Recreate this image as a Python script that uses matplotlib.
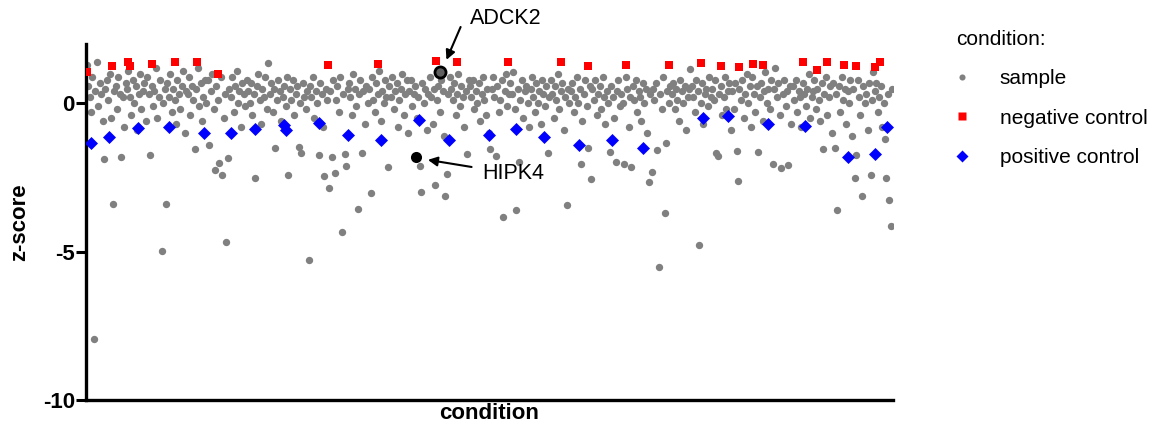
import numpy as np
import matplotlib
matplotlib.use("Agg")
import matplotlib.pyplot as plt
from matplotlib.lines import Line2D

plt.rcParams['font.family'] = ['Liberation Sans', 'DejaVu Sans']

# z-scores of screened samples, in plate order (14 per ~16 wells)
sample_z = [
    1.3, 0.6, 0.2, -0.3, 0.9, -7.96, 0.4, 1.38, -0.1, 0.7, 0.3, -0.6, -1.87, 0.5,
    0.8, 0.1, 1.0, -0.5, -3.38, 0.4, 0.6, -0.2, 0.9, 0.3, -1.80, 0.2, -0.8, 0.7,
    0.5, 1.1, 0.2, -0.4, 0.8, 0.0, 0.6, -0.9, 0.3, 1.0, -0.2, 0.4, 0.7, -0.6,
    0.9, 0.3, -1.75, 0.6, -0.1, 0.4, 1.2, -0.5, 0.2, 0.8, -4.98, 0.0, 0.5, -3.38,
    0.7, 0.2, 1.0, -0.3, 0.5, 0.1, -0.7, 0.8, 0.3, -0.2, 0.6, 1.1, -1.0, 0.4,
    0.3, 0.9, -0.4, 0.6, 0.1, -1.54, 0.5, 1.2, -0.1, 0.7, -0.6, 0.2, 0.8, 0.0,
    0.8, -1.42, 0.4, 1.0, -0.2, -2.26, 0.6, 0.1, -2.0, 0.9, -2.42, -0.5, 0.3, -4.66,
    -1.83, 0.5, 0.2, 0.9, -0.3, 0.6, 1.1, 0.0, 0.4, -0.8, 0.7, 0.3, -0.1, 0.8,
    0.4, 0.0, 0.7, -0.4, 0.3, -2.52, 0.6, 1.0, 0.1, -0.7, 0.5, 0.2, 0.9, -0.2,
    1.35, 0.3, 0.7, -0.3, 0.5, -1.50, 0.1, 0.8, 0.4, -0.6, 0.2, 0.6, -0.1, 0.9,
    -2.42, 0.5, 0.1, 0.8, -0.4, 0.3, 0.6, -1.46, 0.0, -1.68, 0.7, 0.2, -0.2, 0.4,
    -5.29, 0.6, 0.2, 0.9, -0.5, 0.4, 0.0, -1.75, 0.7, 0.3, -0.8, -2.45, 0.5, 0.1,
    -2.84, 0.4, -1.80, 0.8, -2.36, 0.1, 0.6, -0.3, 0.9, -4.33, 0.3, -1.71, -2.12, 0.5,
    0.7, 0.2, -0.4, 1.0, 0.5, -0.1, -3.56, 0.3, 0.8, -1.67, 0.4, -0.7, 0.6, 0.0,
    0.5, -3.02, 0.9, 0.1, -0.3, 0.7, 0.3, 1.1, -0.6, 0.4, 0.0, 0.8, 0.2, -2.16,
    0.6, 0.2, 0.9, -0.2, 0.4, 0.7, -0.8, 0.1, 0.5, 1.0, -0.4, 0.3, 0.8, -1.0,
    0.4, 0.8, -0.1, 0.3, 0.6, -0.5, 0.2, -2.12, -3.0, 0.7, 0.0, 0.5, -0.9, 0.3,
    0.9, 0.2, -0.7, 0.5, -2.75, 0.1, 0.6, -0.3, 0.8, 0.4, -1.1, -3.12, -2.38, 0.3,
    0.9, 0.5, 0.1, 0.7, -0.4, 0.3, 1.0, -0.1, 0.6, 0.2, -0.8, 0.4, -1.70, 0.8,
    0.6, 0.2, 0.8, -0.2, 0.4, 0.0, 0.7, -0.6, 0.3, 0.9, 0.1, -0.4, 0.5, -1.0,
    -1.55, 0.5, 0.9, 0.2, -1.78, 0.6, -0.3, 0.1, 0.8, -3.82, 0.4, 1.0, -0.1, 0.3,
    0.7, 0.3, 1.05, -0.2, -3.6, 0.5, -1.98, 0.1, 0.8, -0.5, 0.4, 0.6, 0.0, -0.8,
    0.5, 0.9, 0.2, -0.3, 0.7, 0.0, 0.4, -0.7, 0.8, 0.3, -0.1, 0.6, -1.69, 0.2,
    0.8, 0.3, -0.5, 0.6, 0.1, 1.0, -0.2, 0.4, 0.7, -0.9, 0.2, -3.43, 0.5, 0.0,
    0.4, 0.7, -0.3, 0.2, 0.9, 0.0, 0.5, -2.06, -0.6, 0.3, 0.8, -0.1, -1.49, 0.6,
    -2.54, 0.5, 0.1, 0.8, -0.4, 0.3, 0.6, -0.2, 0.9, 0.2, -0.7, 0.4, 0.0, -1.64,
    0.6, 0.2, -0.5, -1.98, 0.4, 0.8, -0.1, 0.3, 0.0, -2.05, 0.9, 0.5, -0.8, 0.2,
    -2.13, 0.6, 0.1, 0.8, -0.3, 0.4, 0.2, -0.6, 0.7, 0.0, 0.5, -1.0, -2.64, 0.3,
    -2.30, 0.5, 0.1, 0.7, -1.58, -5.5, 0.3, -0.2, 0.9, -3.68, -1.35, 0.4, 0.0, 0.6,
    0.3, 0.7, -0.2, 0.5, 0.1, -0.6, 0.8, 0.4, 0.0, 0.6, -0.9, 0.2, 0.5, 1.15,
    0.6, 0.2, -0.3, 0.8, 0.4, -4.79, 0.0, 0.7, -0.7, 0.3, 0.5, -0.1, 0.9, 0.2,
    0.5, 0.1, 0.8, -1.67, -1.76, 0.3, 0.6, -0.4, 0.2, 0.9, -0.2, 0.4, 0.7, -0.9,
    0.4, -0.2, 0.7, -1.61, -2.63, 0.5, 0.1, 0.8, -0.5, 0.3, 1.0, 0.0, 0.6, -0.8,
    0.9, 0.3, -0.3, 0.6, -1.64, 0.2, 0.7, -0.6, 0.4, 1.05, 0.0, 0.5, -0.2, 0.8,
    -2.05, 0.5, 1.2, 0.2, 0.7, -0.4, -2.19, 0.3, 0.8, -0.1, 0.4, -2.09, 0.6, -0.7,
    0.6, 0.1, 0.8, -0.3, 0.4, 0.2, -0.8, 0.7, 0.3, -0.1, 0.5, 1.0, -0.5, 0.2,
    0.4, 0.8, -0.2, 0.5, 0.1, -0.6, 0.7, -1.55, 0.3, 0.9, -0.4, 0.2, 0.6, -1.0,
    0.7, -1.49, 0.3, -3.6, 0.6, -0.3, 0.9, 0.1, 0.5, -0.7, 0.4, 0.0, 0.8, -1.1,
    0.5, -2.52, -1.75, 0.8, 0.2, -0.4, -3.11, 0.6, 0.0, 0.3, -0.9, 0.7, -2.42, 0.1,
    1.05, 0.4, 0.7, -0.3, 0.2, 0.6, -0.8, 0.0, -1.2, -2.52, 0.3, -3.26, -4.13, 0.5,
]

# control wells: well index and z-score
neg_well = [1, 21, 33, 35, 52, 71, 88, 105, 192, 232, 278, 294, 335, 377, 398,
            428, 462, 488, 504, 518, 529, 537, 569, 580, 588, 601, 611, 626, 630]
neg_z = [1.07, 1.26, 1.41, 1.26, 1.33, 1.38, 1.38, 0.99, 1.28, 1.33, 1.43, 1.38,
         1.38, 1.41, 1.26, 1.29, 1.28, 1.35, 1.27, 1.21, 1.33, 1.28, 1.38, 1.13,
         1.38, 1.29, 1.25, 1.24, 1.38]

pos_well = [4, 18, 41, 66, 94, 115, 134, 157, 159, 185, 208, 234, 264, 288, 320,
            341, 363, 391, 417, 442, 489, 509, 541, 570, 604, 626, 635]
pos_z = [-1.33, -1.15, -0.84, -0.81, -1.01, -1.00, -0.87, -0.74, -0.91, -0.65,
         -1.08, -1.25, -0.55, -1.25, -1.07, -0.88, -1.14, -1.41, -1.25, -1.52,
         -0.51, -0.44, -0.68, -0.77, -1.80, -1.72, -0.80]

# highlighted hits
hit_names = ["ADCK2", "HIPK4"]
hit_well = [281, 262]
hit_z = [1.04, -1.80]

n_wells = 640
sample_x = np.linspace(0.6, n_wells - 0.6, len(sample_z))

fig = plt.figure(figsize=(11.63, 4.32), dpi=100)
ax = fig.add_axes([0.0739, 0.0741, 0.6939, 0.824])

ax.scatter(sample_x, sample_z, s=28, c="#808080", marker="o", linewidths=0, zorder=2)
ax.scatter(neg_well, neg_z, s=32, c="#ff0000", marker="s", linewidths=0, zorder=3)
ax.scatter(pos_well, pos_z, s=44, c="#0000ff", marker="D", linewidths=0, zorder=3)

ax.scatter(hit_well[0], hit_z[0], s=64, facecolor="#606060", edgecolor="black",
           linewidths=2.0, zorder=4)
ax.scatter(hit_well[1], hit_z[1], s=64, c="black", linewidths=0, zorder=4)

# labels with arrows (text positions in well / z units)
ax.annotate("", xy=(285, 1.38), xytext=(298, 2.66), annotation_clip=False,
            arrowprops=dict(arrowstyle="-|>", color="black", lw=1.5, mutation_scale=14))
ax.text(304.5, 2.87, hit_names[0], fontsize=15.5, ha="left", va="center", clip_on=False)
ax.annotate("", xy=(269, -1.89), xytext=(308, -2.16), annotation_clip=False,
            arrowprops=dict(arrowstyle="-|>", color="black", lw=1.5, mutation_scale=14))
ax.text(314.5, -2.36, hit_names[1], fontsize=15.5, ha="left", va="center")

ax.set_xlim(0, n_wells)
ax.set_ylim(-10, 2)
ax.set_yticks([0, -5, -10])
ax.set_yticklabels(["0", "-5", "-10"], fontsize=16, fontweight="bold")
ax.set_xticks([])
ax.tick_params(axis="y", length=7, width=2.2, pad=1)
for side in ["top", "right"]:
    ax.spines[side].set_visible(False)
for side in ["left", "bottom"]:
    ax.spines[side].set_linewidth(2.4)

ax.set_xlabel("condition", fontsize=16, fontweight="bold", labelpad=2)
ax.set_ylabel("z-score", fontsize=16, fontweight="bold", labelpad=9)

handles = [
    Line2D([], [], ls="none", marker="o", ms=4.4, mfc="#808080", mec="none"),
    Line2D([], [], ls="none", marker="s", ms=5.5, mfc="#ff0000", mec="none"),
    Line2D([], [], ls="none", marker="D", ms=6.4, mfc="#0000ff", mec="none"),
]
leg = fig.legend(handles, ["sample", "negative control", "positive control"],
                 title="condition:", loc="upper left",
                 bbox_to_anchor=(0.813, 0.955), frameon=False, fontsize=15,
                 title_fontsize=15, alignment="left", handlelength=0.6,
                 handletextpad=1.5, labelspacing=0.98, borderpad=0)

fig.savefig("out.png", dpi=100)
